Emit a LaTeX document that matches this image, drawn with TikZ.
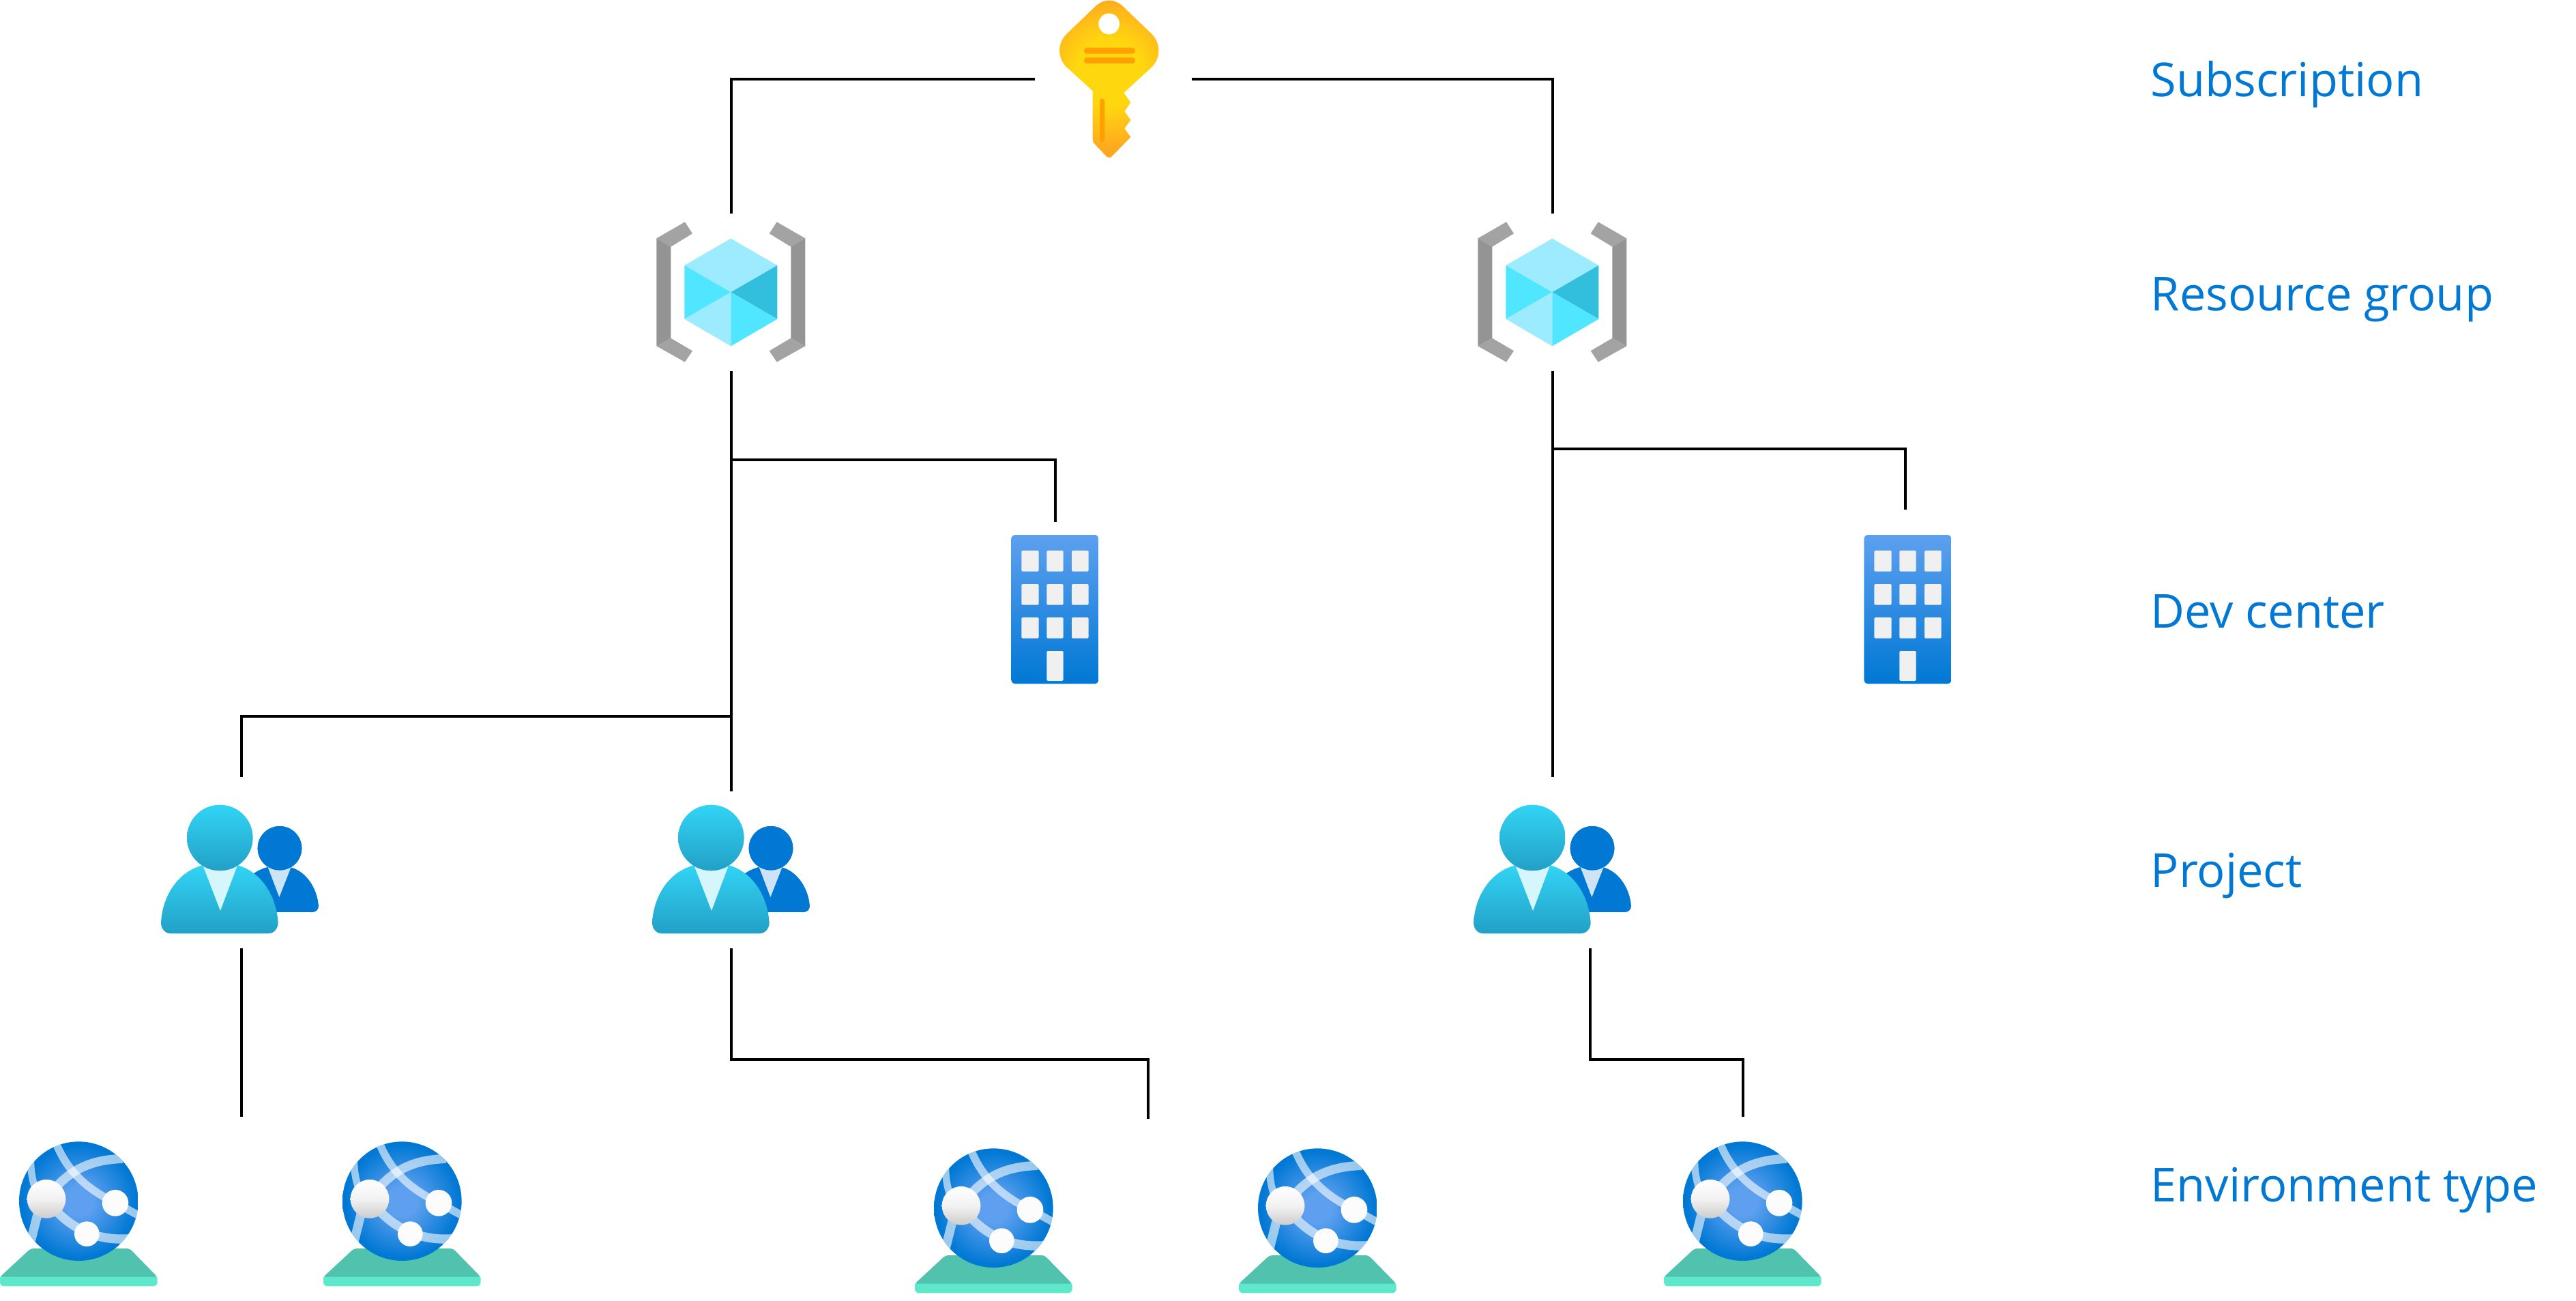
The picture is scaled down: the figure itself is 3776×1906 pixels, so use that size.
\documentclass[tikz,border=0pt]{standalone}
\usepackage{fontspec}
\setmainfont{Open Sans}
\definecolor{azblue}{HTML}{0078D4}
\definecolor{azlight}{HTML}{5EA0EF}
\definecolor{cyantop}{HTML}{32D4F5}
\definecolor{cyanbot}{HTML}{22A0C6}
\definecolor{keyin}{HTML}{FFD70F}
\definecolor{keyout}{HTML}{FFA81F}
\definecolor{keybar}{HTML}{FF9F00}
\definecolor{brA}{HTML}{A3A3A3}
\definecolor{brB}{HTML}{949494}
\definecolor{cuA}{HTML}{9CEBFF}
\definecolor{cuB}{HTML}{50E6FF}
\definecolor{cuC}{HTML}{32BEDD}
\definecolor{platA}{HTML}{50C2AE}
\definecolor{platB}{HTML}{5EE8CB}
\pgfdeclareradialshading{keyrad}{\pgfpointorigin}{color(0bp)=(keyin);color(9bp)=(keyin);color(21bp)=(keyout);color(50bp)=(keyout)}
\pgfdeclareradialshading{globerad}{\pgfpointorigin}{color(0bp)=(azlight);color(6bp)=(azlight);color(24bp)=(azblue);color(50bp)=(azblue)}
\tikzset{
  link/.style={draw=black,line width=0.35mm},
  tier/.style={anchor=base west,inner sep=0pt,text=azblue,font=\fontsize{19.5}{23}\selectfont},
  band/.style={draw=white,draw opacity=.6},
  keyicon/.pic={
    \begin{scope}[scale=1/3]
      \path[clip] (320,25) .. controls (355,-6) and (400,-6) .. (435,25) -- (565,150) .. controls (605,190) and (605,255) .. (565,295) -- (442,408) -- (472,450) -- (445,490) -- (472,528) -- (445,565) -- (472,603) -- (385,692) -- (370,692) -- (315,635) .. controls (308,628) and (305,620) .. (305,610) -- (305,400) -- (185,290) .. controls (150,250) and (150,190) .. (190,150) -- cycle;
      \shade[shading=keyrad] (377,320) circle (400);
      \fill[keybar,rounded corners=0.4mm] (267,210) rectangle (492,236);
      \fill[keybar,rounded corners=0.4mm] (267,253) rectangle (492,279);
      \fill[keybar,rounded corners=0.3mm] (337,434) rectangle (357,625);
      \fill[white] (377,105) circle (46);
    \end{scope}
  },
  rgicon/.pic={
    \begin{scope}[scale=1/3]
      \fill[brB] (97,148) -- (160,185) -- (160,587) -- (97,622) -- cycle;
      \fill[brA] (97,148) -- (222,76) -- (255,127) -- (160,185) -- cycle;
      \fill[brA] (97,622) -- (160,587) -- (255,643) -- (222,692) -- cycle;
      \fill[brB] (751,148) -- (688,185) -- (688,587) -- (751,622) -- cycle;
      \fill[brA] (751,148) -- (626,76) -- (593,127) -- (688,185) -- cycle;
      \fill[brA] (751,622) -- (688,587) -- (593,643) -- (626,692) -- cycle;
      \fill[cuA] (424,149) -- (628,267) -- (424,385) -- (220,267) -- cycle;
      \fill[cuB] (220,267) -- (424,385) -- (220,503) -- cycle;
      \fill[cuC] (628,267) -- (424,385) -- (628,503) -- cycle;
      \fill[cuA] (220,503) -- (424,385) -- (424,622) -- cycle;
      \fill[cuB] (424,385) -- (628,503) -- (424,622) -- cycle;
    \end{scope}
  },
  dcicon/.pic={
    \begin{scope}[scale=1/3]
      \shade[top color=azlight,bottom color=azblue,rounded corners=0.6mm] (97,72) rectangle (481,727);
      \foreach \wy in {141,288,435} {
        \fill[white!94!black,rounded corners=0.15mm] (142,\wy) rectangle (218,\wy+92);
        \fill[white!94!black,rounded corners=0.15mm] (253,\wy) rectangle (326,\wy+92);
        \fill[white!94!black,rounded corners=0.15mm] (363,\wy) rectangle (437,\wy+92);
      }
      \fill[white!94!black,rounded corners=0.15mm] (253,582) rectangle (326,714);
    \end{scope}
  },
  projicon/.pic={
    \begin{scope}[scale=1/3]
      \fill[azblue] (480,530) -- (480,365) .. controls (500,350) and (525,338) .. (550,332) -- (640,332) .. controls (710,345) and (765,420) .. (771,505) .. controls (771,520) and (758,531) .. (745,531) -- cycle;
      \fill[azblue] (600,250) circle (97);
      \fill[white!80!azblue] (548,333) -- (650,333) -- (598,465) -- cycle;
      \fill[azblue] (600,250) circle (97);
      \shade[top color=cyantop,bottom color=cyanbot] (120,625) .. controls (95,625) and (78,602) .. (78,578) .. controls (85,450) and (160,350) .. (262,325) -- (415,325) .. controls (510,350) and (585,450) .. (593,578) .. controls (593,602) and (575,625) .. (550,625) -- cycle;
      \fill[white!80!cyantop] (263,328) -- (413,328) -- (339,525) -- cycle;
      \shade[top color=cyantop,bottom color=cyanbot] (337,204) circle (145);
    \end{scope}
  },
  envicon/.pic={
    \begin{scope}[scale=1/3]
      \fill[platB,rounded corners=0.6mm] (0,655) rectangle (692,706);
      \fill[platA,rounded corners=0.4mm] (135,540) -- (570,540) -- (692,665) -- (0,665) -- cycle;
      \begin{scope}
        \clip (346,332) circle (262);
        \shade[shading=globerad] (346,332) circle (262);
        \draw[band,line width=1.15mm] (250,85) .. controls (290,180) and (360,270) .. (510,340) -- (610,395);
        \draw[band,line width=1.33mm] (540,145) .. controls (400,150) and (300,190) .. (204,322);
        \draw[band,line width=1.05mm] (135,150) .. controls (135,220) and (150,270) .. (170,310);
        \draw[band,line width=1.33mm] (170,370) -- (135,510);
        \draw[band,line width=1.33mm] (204,322) .. controls (280,430) and (400,510) .. (570,497);
      \end{scope}
      \shade[top color=white,bottom color=white!80!black,middle color=white!95!black] (204,322) circle (85);
      \fill[white!99!black] (507,340) circle (58);
      \fill[white!99!black] (382,476) circle (55);
    \end{scope}
  }
}
\begin{document}
\begin{tikzpicture}[x=0.01cm,y=-0.01cm]
\useasboundingbox (0,0) rectangle (3776,1906);
% icons
\pic (sub) at (1500,0) {keyicon};
\pic (rgA) at (930,300) {rgicon};
\pic (rgB) at (2134,300) {rgicon};
\pic (dcA) at (1450,760) {dcicon};
\pic (dcB) at (2700,760) {dcicon};
\pic (prA) at (210,1160) {projicon};
\pic (prB) at (930,1160) {projicon};
\pic (prC) at (2134,1160) {projicon};
\pic (enA) at (0,1650) {envicon};
\pic (enB) at (474,1650) {envicon};
\pic (enC) at (1341,1660) {envicon};
\pic (enD) at (1816,1660) {envicon};
\pic (enE) at (2439,1650) {envicon};
% connector ends
\coordinate (keyL) at (1517,116);
\coordinate (keyR) at (1747,116);
\coordinate (rgAtop) at (1072,313);
\coordinate (rgBtop) at (2276,313);
\coordinate (rgAbot) at (1072,544);
\coordinate (rgBbot) at (2276,544);
\coordinate (jA1) at (1072,674);
\coordinate (jA2) at (1072,1050);
\coordinate (jB1) at (2276,658);
\coordinate (dcAtop) at (1547,765);
\coordinate (dcBtop) at (2793,747);
\coordinate (prAtop) at (354,1139);
\coordinate (prBtop) at (1072,1160);
\coordinate (prCtop) at (2276,1139);
\coordinate (prAbot) at (354,1390);
\coordinate (prBbot) at (1072,1390);
\coordinate (prCbot) at (2331,1390);
\coordinate (enAB) at (354,1637);
\coordinate (enCD) at (1683,1640);
\coordinate (enEtop) at (2555,1637);
% connectors
\draw[link] (keyL) -| (rgAtop);
\draw[link] (keyR) -| (rgBtop);
\draw[link] (rgAbot) -- (prBtop);
\draw[link] (rgBbot) -- (prCtop);
\draw[link] (jA1) -| (dcAtop);
\draw[link] (jB1) -| (dcBtop);
\draw[link] (jA2) -| (prAtop);
\draw[link] (prAbot) -- (enAB);
\draw[link] (prBbot) |- ++(0,163) -| (enCD);
\draw[link] (prCbot) |- ++(0,163) -| (enEtop);
% tier labels
\node[tier] (tSub) at (3152,142) {Subscription};
\node[tier] (tRg) at (3152,455) {Resource group};
\node[tier] (tDc) at (3152,920) {Dev center};
\node[tier] (tPr) at (3152,1300) {Project};
\node[tier] (tEn) at (3152,1761) {Environment type};
\end{tikzpicture}
\end{document}
